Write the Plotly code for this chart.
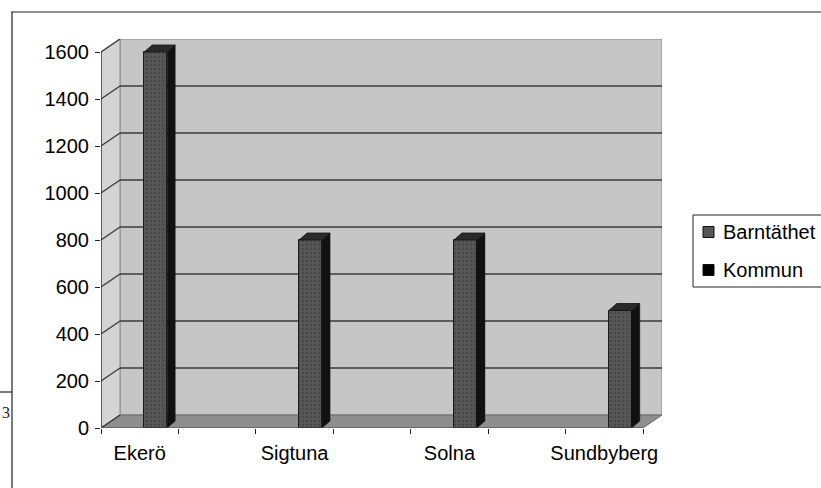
import plotly.graph_objects as go

# ---- data ----
categories = ["Ekerö", "Sigtuna", "Solna", "Sundbyberg"]
barntathet = [1600, 800, 800, 500]
series_names = ["Barntäthet", "Kommun"]
series_colors = ["#555555", "#000000"]
y_ticks = [0, 200, 400, 600, 800, 1000, 1200, 1400, 1600]

# ---- layout constants (pixel geometry of the scanned 3D chart, window px) ----
W, H = 821, 488
L, R, T, B = 101, 662, 39, 428           # plot area in window px
SLOT_PX = (643 - 101) / 7                # category slot width
N_SLOTS = 7
PX_PER_UNIT = (428 - 52) / 1600
DX = 19 / SLOT_PX                        # wall depth (x, in slots)
DY = 13 / PX_PER_UNIT                    # wall depth (y, in value units)
BAR_OFF = 16 / SLOT_PX
BAR_W = 23 / SLOT_PX
BDX = 8 / SLOT_PX
BDY = 7 / PX_PER_UNIT

x_lo = -0.5
x_hi = -0.5 + (R - L) / SLOT_PX
y_hi = (B - T) / PX_PER_UNIT

slot_pos = [2 * i for i in range(len(categories))]
bar_x = [p + BAR_OFF for p in slot_pos]


def px_x(p):
    return (p - L) / (R - L)


def px_y(p):
    return (B - p) / (B - T)


shapes = []
# back wall
shapes.append(dict(type="rect", xref="x", yref="y", x0=x_lo + DX, x1=6.5 + DX, y0=DY, y1=1600 + DY,
                   fillcolor="#c6c6c6", line=dict(color="#8a8a8a", width=1), layer="below"))
# left wall
shapes.append(dict(type="path", xref="x", yref="y",
                   path=f"M{x_lo},0 L{x_lo},1600 L{x_lo+DX},{1600+DY} L{x_lo+DX},{DY} Z",
                   fillcolor="#d4d4d4", line=dict(color="#8a8a8a", width=1), layer="below"))
# floor
shapes.append(dict(type="path", xref="x", yref="y",
                   path=f"M{x_lo},0 L6.5,0 L{6.5+DX},{DY} L{x_lo+DX},{DY} Z",
                   fillcolor="#8e8e8e", line=dict(color="#6a6a6a", width=1), layer="below"))
# gridlines on back wall + diagonals on left wall
for v in y_ticks:
    if 0 < v < 1600:
        shapes.append(dict(type="line", xref="x", yref="y", x0=x_lo + DX, x1=6.5 + DX, y0=v + DY, y1=v + DY,
                           line=dict(color="#3a3a3a", width=1.6), layer="below"))
    shapes.append(dict(type="line", xref="x", yref="y", x0=x_lo, x1=x_lo + DX, y0=v, y1=v + DY,
                       line=dict(color="#3a3a3a", width=1.4), layer="below"))
# front y axis line and front x edge
shapes.append(dict(type="line", xref="x", yref="y", x0=x_lo, x1=x_lo, y0=0, y1=1600,
                   line=dict(color="#222", width=1.2)))
shapes.append(dict(type="line", xref="x", yref="y", x0=x_lo, x1=6.5, y0=0, y1=0,
                   line=dict(color="#555", width=1)))

# page artefacts (chart frame, margin mark)
shapes.append(dict(type="line", xref="paper", yref="paper", x0=px_x(11), x1=px_x(830), y0=px_y(12), y1=px_y(12),
                   line=dict(color="#222", width=1.2)))
shapes.append(dict(type="line", xref="paper", yref="paper", x0=px_x(12), x1=px_x(12), y0=px_y(12), y1=px_y(500),
                   line=dict(color="#222", width=1.2)))
shapes.append(dict(type="line", xref="paper", yref="paper", x0=px_x(0), x1=px_x(12), y0=px_y(392), y1=px_y(392),
                   line=dict(color="#222", width=1.2)))

# legend (drawn by hand so that its right side runs off the page like the scan)
shapes.append(dict(type="rect", xref="paper", yref="paper", x0=px_x(693), x1=px_x(850),
                   y0=px_y(287), y1=px_y(215), line=dict(color="#222", width=1), fillcolor="white"))
legend_y = [232, 270]
annotations = []
for name, col, ly in zip(series_names, series_colors, legend_y):
    shapes.append(dict(type="rect", xref="paper", yref="paper", x0=px_x(703), x1=px_x(714),
                       y0=px_y(ly + 5.5), y1=px_y(ly - 5.5), fillcolor=col, line=dict(color="#111", width=1)))
    annotations.append(dict(xref="paper", yref="paper", x=px_x(721), y=px_y(ly), text=name,
                            xanchor="left", yanchor="middle", showarrow=False,
                            font=dict(size=20, color="black")))

annotations.append(dict(xref="paper", yref="paper", x=px_x(6), y=px_y(412), text="3", showarrow=False,
                        xanchor="center", yanchor="middle",
                        font=dict(family="Liberation Serif", size=16, color="#222")))

fig = go.Figure()

# front faces of the bars
fig.add_trace(go.Bar(
    x=bar_x, y=barntathet, width=BAR_W, name=series_names[0], showlegend=False,
    marker=dict(color=series_colors[0], line=dict(color="#1a1a1a", width=1),
                pattern=dict(shape=".", fgcolor="#333333", bgcolor="#575757", size=4, solidity=0.25)),
))

# side and top faces computed from the values
sx, sy, tx, ty = [], [], [], []
for xc, v in zip(bar_x, barntathet):
    x0, x1 = xc - BAR_W / 2, xc + BAR_W / 2
    sx += [x1, x1, x1 + BDX, x1 + BDX, x1, None]
    sy += [0, v, v + BDY, BDY, 0, None]
    tx += [x0, x1, x1 + BDX, x0 + BDX, x0, None]
    ty += [v, v, v + BDY, v + BDY, v, None]
fig.add_trace(go.Scatter(x=sx, y=sy, fill="toself", fillcolor="#111111", mode="lines",
                         line=dict(color="#111111", width=0.5), showlegend=False, hoverinfo="skip"))
fig.add_trace(go.Scatter(x=tx, y=ty, fill="toself", fillcolor="#2a2a2a", mode="lines",
                         line=dict(color="#111111", width=0.8), showlegend=False, hoverinfo="skip"))

fig.update_layout(
    width=W, height=H,
    margin=dict(l=L, r=W - R, t=T, b=H - B, pad=0),
    paper_bgcolor="white", plot_bgcolor="white",
    font=dict(family="Liberation Sans, Arial", size=20, color="black"),
    shapes=shapes,
    annotations=annotations,
    showlegend=False,
    xaxis=dict(range=[x_lo, x_hi], showgrid=False, zeroline=False, showline=False,
               tickmode="array", tickvals=slot_pos, ticktext=categories, ticks="",
               ticklabelstandoff=11,
               minor=dict(tickmode="array", tickvals=[k - 0.5 for k in range(N_SLOTS + 1)],
                          ticks="outside", ticklen=5, tickcolor="#222", showgrid=False)),
    yaxis=dict(range=[0, y_hi], showgrid=False, zeroline=False, showline=False,
               tickmode="array", tickvals=y_ticks, ticks="outside", ticklen=5, tickcolor="#222",
               ticklabelstandoff=2),
    bargap=0,
)

fig.write_html("out.html", config={"displayModeBar": False},
               post_script="document.body.style.margin='0';document.body.style.overflow='hidden';")
